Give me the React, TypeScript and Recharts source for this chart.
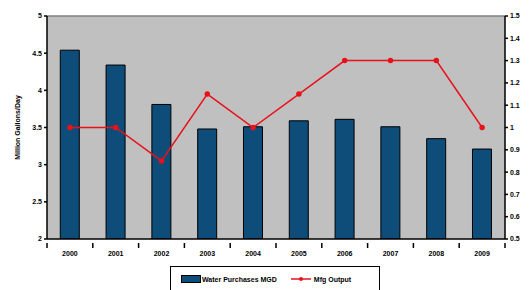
import React from "react";
import {
  ComposedChart,
  Bar,
  Line,
  XAxis,
  YAxis,
  CartesianGrid,
  Legend,
  ReferenceLine,
} from "recharts";

const years = ["2000", "2001", "2002", "2003", "2004", "2005", "2006", "2007", "2008", "2009"];
const waterPurchases = [4.54, 4.34, 3.81, 3.48, 3.51, 3.59, 3.61, 3.51, 3.35, 3.21];
const mfgOutput = [1.0, 1.0, 0.85, 1.15, 1.0, 1.15, 1.3, 1.3, 1.3, 1.0];
const leftTicks = [2, 2.5, 3, 3.5, 4, 4.5, 5];
const rightTicks = [0.5, 0.6, 0.7, 0.8, 0.9, 1.0, 1.1, 1.2, 1.3, 1.4, 1.5];

const data = years.map((y, i) => ({
  year: y,
  water: waterPurchases[i],
  mfg: mfgOutput[i],
}));

const FONT = "'Liberation Sans', Arial, sans-serif";
const BAR = "#0e4c7a";
const RED = "#e8121b";
const HALF_BAND = 22.9;

const tickStyle = { fontSize: 7, fontFamily: FONT, fill: "#000", fontWeight: 700 };

const CatTick = (props: any) => {
  const { x, y, payload, index } = props;
  const last = index === years.length - 1;
  return (
    <g>
      <line x1={x - HALF_BAND} y1={y - 4} x2={x - HALF_BAND} y2={y + 1} stroke="#000" strokeWidth={1.5} />
      {last && (
        <line x1={x + HALF_BAND} y1={y - 4} x2={x + HALF_BAND} y2={y + 1} stroke="#000" strokeWidth={1.5} />
      )}
      <text
        x={x}
        y={y + 9}
        textAnchor="middle"
        style={{ fontSize: 7, fontFamily: FONT, fontWeight: 700 }}
        fill="#000"
      >
        {payload.value}
      </text>
    </g>
  );
};

const LegendContent = () => (
  <div style={{ display: "flex", justifyContent: "center" }}>
    <div
      style={{
        border: "1.5px solid #000",
        background: "#fff",
        width: 210,
        height: 26,
        boxSizing: "border-box",
        display: "flex",
        alignItems: "center",
        paddingLeft: 10,
        fontFamily: FONT,
        fontSize: 7,
        fontWeight: 700,
        color: "#000",
      }}
    >
      <svg width={20} height={8} style={{ marginRight: 1 }}>
        <rect x={0.5} y={0.5} width={19} height={7} fill={BAR} stroke="#000" />
      </svg>
      <span>Water Purchases MGD</span>
      <svg width={20} height={8} style={{ marginLeft: 14, marginRight: 3 }}>
        <line x1={0} y1={4} x2={20} y2={4} stroke={RED} strokeWidth={1.5} />
        <circle cx={10} cy={4} r={2} fill={RED} />
      </svg>
      <span>Mfg Output</span>
    </div>
  </div>
);

export default function App() {
  return (
    <div style={{ position: "absolute", left: 0, top: 0, width: 530, height: 290, background: "#fff" }}>
      <ComposedChart
        width={530}
        height={290}
        data={data}
        margin={{ top: 16, right: 0, left: 20, bottom: 9 }}
        barCategoryGap="29%"
      >
        <CartesianGrid fill="#c0c0c0" horizontal={false} vertical={false} yAxisId="left" xAxisId="cat" />
        <XAxis
          xAxisId="cat"
          dataKey="year"
          height={16}
          axisLine={{ stroke: "#000", strokeWidth: 1.5 }}
          tickLine={false}
          tick={<CatTick />}
          interval={0}
        />
        <YAxis
          yAxisId="left"
          domain={[2, 5]}
          ticks={leftTicks}
          width={27}
          tick={tickStyle}
          tickSize={3}
          axisLine={{ stroke: "#000", strokeWidth: 1.5 }}
          tickLine={{ stroke: "#000", strokeWidth: 1.5 }}
          allowDataOverflow
          label={{
            value: "Million Gallons/Day",
            angle: -90,
            position: "insideLeft",
            offset: -2,
            style: { fontSize: 7, fontFamily: FONT, fontWeight: 700, fill: "#000", textAnchor: "middle" },
          }}
        />
        <YAxis
          yAxisId="right"
          orientation="right"
          domain={[0.5, 1.5]}
          ticks={rightTicks}
          width={25}
          tick={tickStyle}
          tickSize={3}
          tickFormatter={(v: number) => String(Math.round(v * 10) / 10)}
          axisLine={{ stroke: "#000", strokeWidth: 1.5 }}
          tickLine={{ stroke: "#000", strokeWidth: 1.5 }}
          allowDataOverflow
        />
        <ReferenceLine yAxisId="left" xAxisId="cat" y={5} stroke="#808080" strokeWidth={1.5} />
        <Bar
          xAxisId="cat"
          yAxisId="left"
          dataKey="water"
          name="Water Purchases MGD"
          fill={BAR}
          stroke="#000"
          strokeWidth={1}
          isAnimationActive={false}
        />
        <Line
          xAxisId="cat"
          yAxisId="right"
          dataKey="mfg"
          name="Mfg Output"
          stroke={RED}
          strokeWidth={1.5}
          dot={{ r: 2, fill: RED, stroke: RED }}
          isAnimationActive={false}
        />
        <Legend verticalAlign="bottom" content={<LegendContent />} wrapperStyle={{ bottom: -2 }} />
      </ComposedChart>
    </div>
  );
}
